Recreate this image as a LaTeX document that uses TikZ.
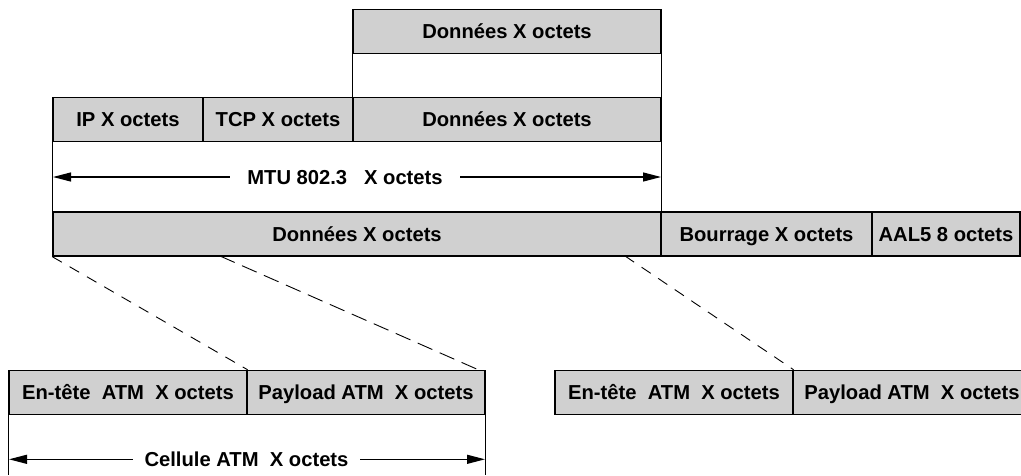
\documentclass[tikz,border=0pt]{standalone}
\usepackage{fontspec}
\setmainfont{Liberation Sans}
\usetikzlibrary{arrows.meta}
\definecolor{boxgray}{RGB}{208,208,208}
\tikzset{
  cell/.style={draw, fill=boxgray, line width=1.4pt, inner sep=0pt,
    minimum height=44pt, text height=14.4pt, text depth=0pt,
    font=\fontsize{20.2}{24}\selectfont\bfseries},
  conn/.style={line width=1.4pt},
  dimline/.style={line width=1.2pt, {Triangle[length=18pt,width=9pt]}-{Triangle[length=18pt,width=9pt]}},
  dimlabel/.style={fill=white, inner ysep=1pt, text height=14.4pt, text depth=0pt,
    font=\fontsize{20.2}{24}\selectfont\bfseries},
  zoomline/.style={line width=0.9pt, dash pattern=on 11pt off 9pt},
  zoomlong/.style={line width=0.9pt, dash pattern=on 16pt off 8pt}
}
\begin{document}
\begin{tikzpicture}[x=1pt, y=-1pt]
  \useasboundingbox (0,0) rectangle (1021,475);
  \clip (0,0) rectangle (1021,475);

  % TCP payload
  \node[cell, minimum width=308pt] (D1) at (507,31.3) {Données X octets};

  % IP packet
  \node[cell, minimum width=150pt] (IP)  at (128,119.6) {IP X octets};
  \node[cell, minimum width=150pt] (TCP) at (278,119.6) {TCP X octets};
  \node[cell, minimum width=308pt] (D2)  at (507,119.6) {Données X octets};

  % AAL5 frame
  \node[cell, minimum width=608pt] (D3)   at (357,234) {Données X octets};
  \node[cell, minimum width=211pt] (BOUR) at (766.5,234) {Bourrage X octets};
  \node[cell, minimum width=148pt] (AAL)  at (946,234) {AAL5 8 octets};

  % ATM cells
  \node[cell, minimum width=238pt] (H1) at (128,392.5) {En-tête\ \ ATM\ \ X octets};
  \node[cell, minimum width=238pt] (P1) at (366,392.5) {Payload ATM\ \ X octets};
  \node[cell, minimum width=238pt] (H2) at (674,392.5) {En-tête\ \ ATM\ \ X octets};
  \node[cell, minimum width=238pt] (P2) at (912,392.5) {Payload ATM\ \ X octets};

  % vertical guide lines
  \draw[conn] (D1.south west) -- (D2.north west);
  \draw[conn] (D1.south east) -- (D2.north east);
  \draw[conn] (IP.south west) -- (D3.north west);
  \draw[conn] (D2.south east) -- (D3.north east);
  \coordinate (bot) at (0,475);
  \draw[conn] (H1.south west) -- (H1.south west |- bot);
  \draw[conn] (P1.south east) -- (P1.south east |- bot);

  % dimension arrows
  \coordinate (mtuL) at (53,177);
  \coordinate (mtuR) at (661,177);
  \draw[dimline] (mtuL) -- (mtuR);
  \node[dimlabel, inner xsep=17pt] (mtu) at (345,177) {MTU 802.3\ \ \ X octets};

  \coordinate (celL) at (9,459.3);
  \coordinate (celR) at (485,459.3);
  \draw[dimline] (celL) -- (celR);
  \node[dimlabel, inner xsep=12pt] (cel) at (246.5,459.3) {Cellule ATM\ \ X octets};

  % segmentation into cells
  \coordinate (z2) at (220,256);
  \coordinate (z3) at (625,256);
  \coordinate (p1end) at (480,370.5);
  \draw[zoomline] (D3.south west) -- (H1.north east);
  \draw[zoomlong] (z2) -- (p1end);
  \draw[zoomline] (z3) -- (H2.north east);
\end{tikzpicture}
\end{document}
